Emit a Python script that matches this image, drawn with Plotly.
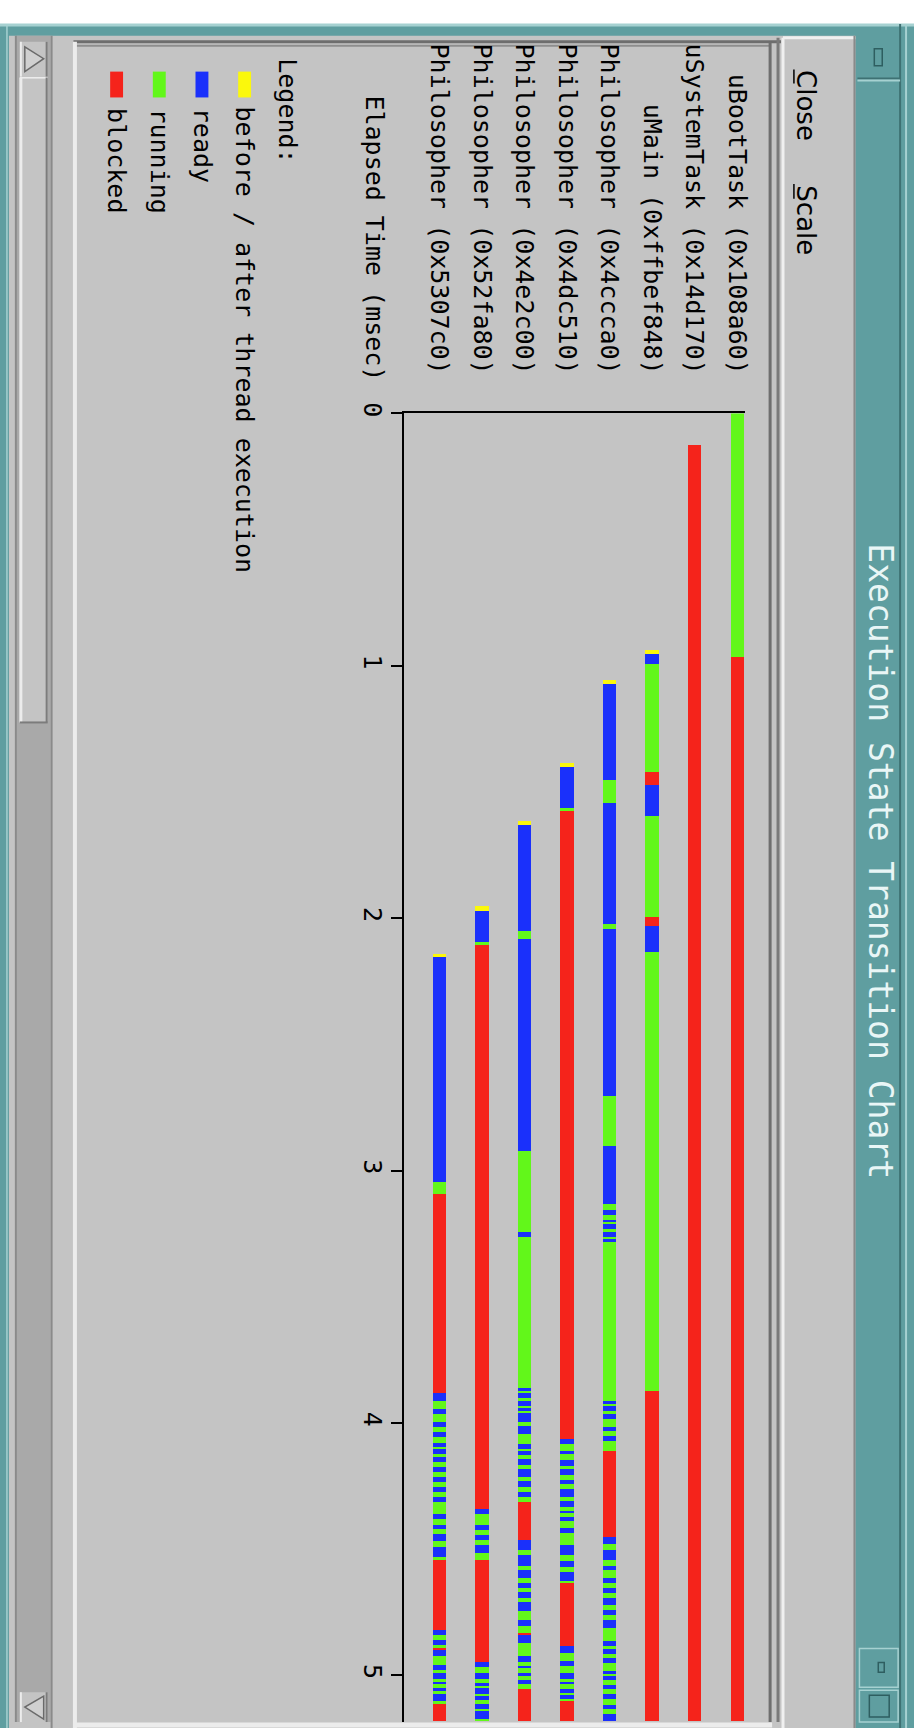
import plotly.graph_objects as go

W, H = 921, 1728

# ---------------- data ----------------
threads = ["Philosopher (0x5307c0)", "Philosopher (0x52fa80)", "Philosopher (0x4e2c00)",
           "Philosopher (0x4dc510)", "Philosopher (0x4ccca0)", "uMain (0xffbef848)",
           "uSystemTask (0x14d170)", "uBootTask (0x108a60)"]

# state codes: Y = before/after, B = ready, G = running, R = blocked
ph_5307c0_times = [2.143, 2.156, 3.045, 3.094, 3.884, 3.914, 3.946, 3.966, 3.996, 4.016,
                   4.038, 4.058, 4.081, 4.097, 4.105, 4.125, 4.137, 4.156, 4.176, 4.196,
                   4.215, 4.235, 4.256, 4.276, 4.295, 4.314, 4.364, 4.383, 4.406, 4.423,
                   4.442, 4.471, 4.495, 4.534, 4.545, 4.823, 4.843, 4.862, 4.882, 4.895,
                   4.902, 4.925, 4.961, 4.980, 4.993, 5.017, 5.027, 5.036, 5.052, 5.065,
                   5.075, 5.105, 5.114, 5.184]
ph_5307c0_states = ("YBGRBGBGBG" "BGBGBGBGBG" "BGBGBGBGBG" "BGBGRBGBGR" "BGBGBGBGBG" "BGR")

ph_52fa80_times = [1.955, 1.975, 2.096, 2.106, 4.344, 4.364, 4.406, 4.427, 4.445, 4.466,
                   4.484, 4.515, 4.545, 4.948, 4.967, 4.993, 5.017, 5.031, 5.043, 5.052,
                   5.075, 5.085, 5.098, 5.114, 5.135, 5.144, 5.177, 5.184]
ph_52fa80_states = ("YBGRBGBGBG" "BGRBGBGBGB" "GBGBGBG")

ph_4e2c00_times = [1.618, 1.634, 2.054, 2.084, 2.924, 3.244, 3.265, 3.865, 3.878, 3.884,
                   3.904, 3.913, 3.937, 3.944, 3.957, 3.963, 3.996, 4.013, 4.046, 4.085,
                   4.105, 4.114, 4.127, 4.143, 4.167, 4.183, 4.217, 4.232, 4.256, 4.274,
                   4.295, 4.313, 4.466, 4.505, 4.524, 4.567, 4.584, 4.616, 4.637, 4.655,
                   4.672, 4.694, 4.711, 4.747, 4.783, 4.807, 4.833, 4.843, 4.875, 4.925,
                   4.948, 4.965, 4.974, 4.991, 5.004, 5.022, 5.035, 5.056, 5.184]
ph_4e2c00_states = ("YBGBGBGBGB" "GBGBGBGBGB" "GBGBGBGBGB" "GRBGBGBGBG" "BGBGBGRBGB" "GBGBGBGR")

ph_4dc510_times = [1.387, 1.404, 1.564, 1.575, 4.064, 4.085, 4.114, 4.125, 4.147, 4.171,
                   4.186, 4.206, 4.226, 4.245, 4.265, 4.295, 4.311, 4.335, 4.350, 4.358,
                   4.374, 4.392, 4.416, 4.436, 4.484, 4.524, 4.547, 4.574, 4.593, 4.626,
                   4.637, 4.885, 4.915, 4.944, 4.965, 4.993, 5.017, 5.027, 5.036, 5.056,
                   5.072, 5.078, 5.096, 5.105, 5.184]
ph_4dc510_states = ("YBGRBGBGBG" "BGBGBGBGBG" "BGBGBGBGBG" "RBGBGBGBGB" "GBGR")

ph_4ccca0_times = [1.057, 1.072, 1.454, 1.545, 2.025, 2.045, 2.706, 2.904, 3.134, 3.156,
                   3.176, 3.196, 3.206, 3.215, 3.235, 3.245, 3.264, 3.274, 3.285, 3.913,
                   3.926, 3.934, 3.954, 3.966, 3.986, 4.016, 4.035, 4.055, 4.075, 4.114,
                   4.455, 4.482, 4.505, 4.545, 4.567, 4.584, 4.616, 4.637, 4.655, 4.676,
                   4.694, 4.724, 4.744, 4.764, 4.783, 4.816, 4.865, 4.886, 4.899, 4.917,
                   4.934, 4.954, 4.983, 4.996, 5.006, 5.020, 5.039, 5.056, 5.076, 5.096,
                   5.118, 5.135, 5.154, 5.184]
ph_4ccca0_states = ("YBGBGBGBGB" "GBGBGBGBGB" "GBGBGBGBGR" "BGBGBGBGBG" "BGBGBGBGBG" "BGBGBGBGBG" "BGB")

umain_times = [0.938, 0.955, 0.995, 1.424, 1.474, 1.597, 1.995, 2.034, 2.137, 3.874, 5.184]
umain_states = "YBGRBGRBGR"

usystem_times = [0.125, 5.184]
usystem_states = "R"

uboot_times = [0.0, 0.965, 5.184]
uboot_states = "GR"

series = [(ph_5307c0_times, ph_5307c0_states), (ph_52fa80_times, ph_52fa80_states),
          (ph_4e2c00_times, ph_4e2c00_states), (ph_4dc510_times, ph_4dc510_states),
          (ph_4ccca0_times, ph_4ccca0_states), (umain_times, umain_states),
          (usystem_times, usystem_states), (uboot_times, uboot_states)]

state_codes = ["Y", "B", "G", "R"]
state_labels = ["before / after thread execution", "ready", "running", "blocked"]
state_colors = ["#fbf80c", "#1a30fb", "#62f71a", "#f5231b"]

tick_vals = [0, 1, 2, 3, 4, 5]
axis_title = "Elapsed Time (msec)"
legend_title = "Legend:"
window_title = "Execution State Transition Chart"
menu_items = ["Close", "Scale"]

# ---------------- helpers (pixel -> paper) ----------------
def px(x):
    return x / W

def py(y):
    return 1 - y / H

shapes = []

def rect(x0, y0, x1, y1, fill, line=None, lw=0, layer="below"):
    shapes.append(dict(type="rect", xref="paper", yref="paper",
                       x0=px(x0), x1=px(x1), y0=py(y1), y1=py(y0),
                       fillcolor=fill, line=dict(color=line or fill, width=lw), layer=layer))

def seg(x0, y0, x1, y1, color, lw=1, layer="below"):
    shapes.append(dict(type="line", xref="paper", yref="paper",
                       x0=px(x0), x1=px(x1), y0=py(y0), y1=py(y1),
                       line=dict(color=color, width=lw), layer=layer))

TEAL = "#5f9ea0"
TEAL_D = "#3e7173"
TEAL_L = "#a6d1d1"
GRAY = "#c4c4c4"

# window frame
rect(0, 13, W, H, TEAL)
seg(0, 14, W, 14, TEAL_L, 3)
seg(7, 13, 7, H, TEAL_L, 1.5)
# body gray
rect(9, 25, 862, H, GRAY)
# scrollbar
rect(17, 25, 51, 1722, "#a9a9a9")
seg(16, 25, 16, 1722, "#8a8a8a", 2)
rect(20, 67, 48, 716, GRAY)
seg(21, 67, 21, 716, "#ececec", 3)
seg(20, 67, 48, 67, "#ececec", 2)
seg(47, 67, 47, 716, "#7c7c7c", 2)
seg(20, 716, 48, 716, "#7c7c7c", 2)
rect(20, 31, 48, 66, GRAY)
seg(21, 31, 21, 66, "#ececec", 2)
seg(47, 31, 47, 66, "#7c7c7c", 2)
shapes.append(dict(type="path", xref="paper", yref="paper",
                   path="M %f %f L %f %f L %f %f Z" % (px(25), py(36), px(44), py(48), px(25), py(61)),
                   fillcolor="#d0d0d0", line=dict(color="#6a6a6a", width=1.5), layer="below"))
rect(20, 1692, 48, 1722, GRAY)
seg(21, 1692, 21, 1722, "#ececec", 2)
seg(47, 1692, 47, 1722, "#7c7c7c", 2)
shapes.append(dict(type="path", xref="paper", yref="paper",
                   path="M %f %f L %f %f L %f %f Z" % (px(44), py(1696), px(25), py(1707), px(44), py(1719)),
                   fillcolor="#d0d0d0", line=dict(color="#6a6a6a", width=1.5), layer="below"))
seg(52, 25, 52, H, "#8a8a8a", 2)
# chart panel bevel
seg(74, 31, 787, 31, "#6e6e6e", 3)
seg(74, 35, 777, 35, "#8e8e8e", 2)
seg(776, 31, 776, 1722, "#6e6e6e", 3)
seg(784, 27, 784, 1722, "#7a7a7a", 3)
seg(75.5, 31, 75.5, 1728, "#ececec", 4)
seg(76, 1725, 778, 1725, "#ececec", 5)
# menu strip
seg(789, 27, 789, H, "#f0f0f0", 3)
seg(789, 27, 862, 27, "#f0f0f0", 3)
seg(861, 25, 861, H, "#8a8a8a", 2)
# title bar details
seg(907, 13, 907, H, TEAL_D, 2)
seg(913, 13, 913, H, TEAL_L, 2)
seg(864, 68, 907, 68, TEAL_D, 2)
seg(864, 70, 907, 70, TEAL_L, 2)
rect(881, 38, 889, 55, TEAL, "#2e5e60", 1.5)
rect(866, 1648, 905, 1687, TEAL, TEAL_L, 1.5)
rect(885, 1662, 891, 1672, TEAL, "#2e5e60", 1.5)
rect(866, 1690, 905, 1722, TEAL, TEAL_L, 1.5)
rect(876, 1695, 896, 1717, TEAL, "#2e5e60", 1.5)
# menu mnemonic underlines
seg(800, 59, 800, 73, "#000000", 1.5)
seg(800, 174, 800, 189, "#000000", 1.5)

# legend swatches
leg_x = [246.5, 203.5, 160.5, 117.5]
for cx, col in zip(leg_x, state_colors):
    rect(cx - 6.5, 61, cx + 6.5, 87, col)

# ---------------- figure ----------------
fig = go.Figure()
for code, lab, col in zip(state_codes, state_labels, state_colors):
    xs, bases, lens = [], [], []
    for i, (times, states) in enumerate(series):
        assert len(times) == len(states) + 1, (threads[i], len(times), len(states))
        for j, s in enumerate(states):
            if s == code:
                xs.append(i)
                bases.append(times[j])
                lens.append(times[j + 1] - times[j])
    fig.add_trace(go.Bar(x=xs, y=lens, base=bases, width=0.31, name=lab,
                         marker=dict(color=col, line=dict(width=0)), showlegend=False))

MONO = "DejaVu Sans Mono"
ADV = 0.602 * 25  # monospace advance at 25px
annotations = []

def ann(text, x, yc, size, color="#000000", family=MONO):
    annotations.append(dict(text=text, x=px(x), y=py(yc), xref="paper", yref="paper",
                            showarrow=False, textangle=90, xanchor="center", yanchor="middle",
                            font=dict(family=family, size=size, color=color)))

ann(window_title, 887, 856, 33, color="#e9f6f6")
ann(menu_items[0], 812, 95.5, 26, family="DejaVu Sans")
ann(menu_items[1], 812, 210.5, 26, family="DejaVu Sans")
ann(axis_title, 377, 372 - len(axis_title) * ADV / 2, 25)
ann(legend_title, 290, 48 + len(legend_title) * ADV / 2, 25)
for cx, lab in zip(leg_x, state_labels):
    ann(lab, cx, 98 + len(lab) * ADV / 2, 25)

fig.update_layout(
    width=W, height=H, autosize=False,
    margin=dict(l=0, r=0, t=0, b=0),
    paper_bgcolor="#ffffff", plot_bgcolor="rgba(0,0,0,0)",
    barmode="overlay", bargap=0,
    shapes=shapes, annotations=annotations,
    xaxis=dict(domain=[px(407), px(751)], range=[-0.833, 7.194], side="top",
               tickmode="array", tickvals=list(range(len(threads))), ticktext=threads,
               tickangle=90, ticks="", showline=True, linecolor="#000000", linewidth=2,
               showgrid=False, zeroline=False, ticklabelstandoff=28, fixedrange=True,
               tickfont=dict(family=MONO, size=25, color="#000000")),
    yaxis=dict(domain=[py(1722), py(405)], range=[5.185, 0], tickmode="array",
               tickvals=tick_vals, ticktext=[str(v) for v in tick_vals],
               ticks="outside", ticklen=11, tickwidth=2, tickcolor="#000000",
               showline=True, linecolor="#000000", linewidth=2, tickangle=90,
               showgrid=False, zeroline=False, ticklabelstandoff=-3, fixedrange=True,
               tickfont=dict(family=MONO, size=25, color="#000000")),
)

fig.write_html("out.html", config={"displayModeBar": False},
               post_script="document.body.style.margin='0px';document.body.style.overflow='hidden';")
